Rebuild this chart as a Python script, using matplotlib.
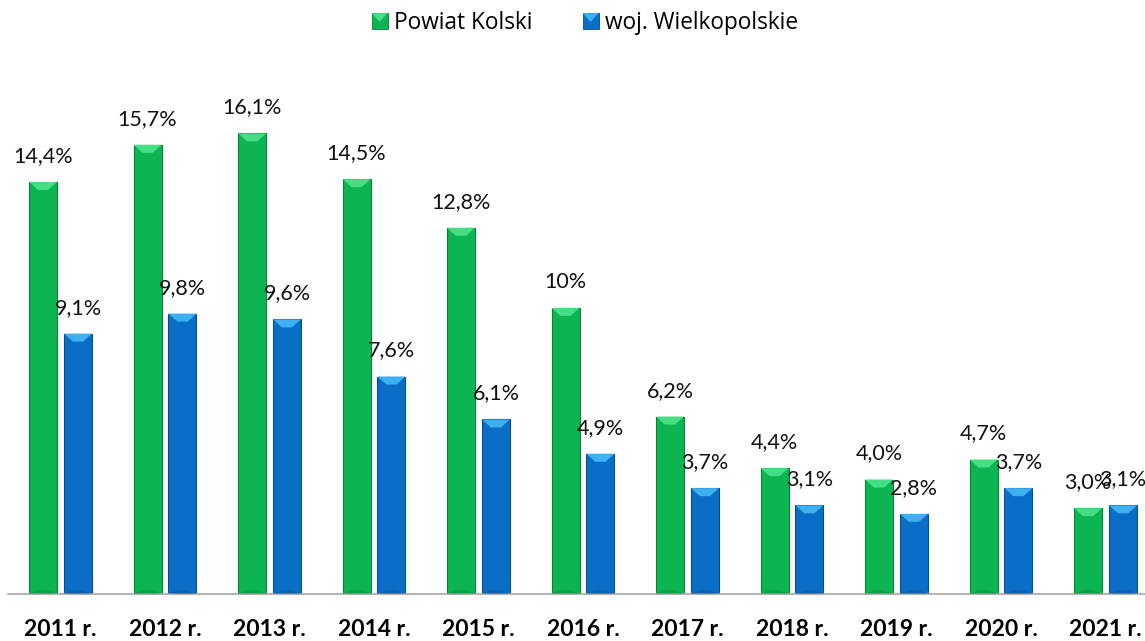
import matplotlib
matplotlib.use("Agg")
import matplotlib.pyplot as plt
from matplotlib.patches import Polygon, Patch
from matplotlib.legend_handler import HandlerPatch

# data
years = ["2011 r.", "2012 r.", "2013 r.", "2014 r.", "2015 r.", "2016 r.",
         "2017 r.", "2018 r.", "2019 r.", "2020 r.", "2021 r."]
powiat = [14.4, 15.7, 16.1, 14.5, 12.8, 10.0, 6.2, 4.4, 4.0, 4.7, 3.0]
woj = [9.1, 9.8, 9.6, 7.6, 6.1, 4.9, 3.7, 3.1, 2.8, 3.7, 3.1]
powiat_labels = ["14,4%", "15,7%", "16,1%", "14,5%", "12,8%", "10%",
                 "6,2%", "4,4%", "4,0%", "4,7%", "3,0%"]
woj_labels = ["9,1%", "9,8%", "9,6%", "7,6%", "6,1%", "4,9%",
              "3,7%", "3,1%", "2,8%", "3,7%", "3,1%"]

GREEN = "#0DB552"
GREEN_EDGE = "#07803A"
GREEN_TOP = "#45DE85"
BLUE = "#0A6EC6"
BLUE_EDGE = "#064E8E"
BLUE_TOP = "#3DB0F2"

W, H = 1145, 641
fig = plt.figure(figsize=(W / 100, H / 100), dpi=100)
ax = fig.add_axes([8.25 / W, 47 / H, 1149.5 / W, 515 / H])

x = list(range(len(years)))
bw = 0.268
off = 0.167

b1 = ax.bar([i - off for i in x], powiat, bw, color=GREEN, edgecolor=GREEN_EDGE,
            linewidth=0.8, zorder=2)
b2 = ax.bar([i + off for i in x], woj, bw, color=BLUE, edgecolor=BLUE_EDGE,
            linewidth=0.8, zorder=2)

ax.set_xlim(-0.5, 10.5)
ax.set_ylim(0, 18)

# bevel on top of each bar (lighter trapezoid), sized in pixels
px_x = 1.0 / 104.5
px_y = 18.0 / 515
for bars, top_c, edge_c in ((b1, GREEN_TOP, GREEN_EDGE), (b2, BLUE_TOP, BLUE_EDGE)):
    for r in bars:
        x0, w, h = r.get_x(), r.get_width(), r.get_height()
        d = 8 * px_y
        s = 9 * px_x
        ax.add_patch(Polygon([(x0, h), (x0 + w, h), (x0 + w - s, h - d), (x0 + s, h - d)],
                             closed=True, facecolor=top_c, edgecolor="none", zorder=3))
        bd = 4 * px_y
        ax.add_patch(Polygon([(x0, 0), (x0 + w, 0), (x0 + w - s, bd), (x0 + s, bd)],
                             closed=True, facecolor=edge_c, alpha=0.35,
                             edgecolor="none", zorder=3))

for bars, labels in ((b1, powiat_labels), (b2, woj_labels)):
    for r, lab in zip(bars, labels):
        ax.annotate(lab, (r.get_x() + r.get_width() / 2, r.get_height()),
                    xytext=(0, 20), textcoords="offset pixels",
                    ha="center", va="baseline", fontsize=15.5,
                    family="Lato", color="#111111", zorder=5)

ax.set_xticks(x)
ax.set_xticklabels(years, fontsize=16.5, fontweight="bold", family="Lato")
ax.tick_params(axis="x", length=0, pad=18)
ax.set_yticks([])
for sp in ("top", "left", "right"):
    ax.spines[sp].set_visible(False)
ax.spines["bottom"].set_color("#A6A6A6")
ax.spines["bottom"].set_linewidth(1.2)


class BevelHandler(HandlerPatch):
    def __init__(self, top, **kw):
        super().__init__(**kw)
        self.top = top

    def create_artists(self, legend, orig, xd, yd, width, height, fontsize, trans):
        sz = min(width, height)
        x0 = xd + (width - sz) / 2
        y0 = yd + (height - sz) / 2
        sq = Polygon([(x0, y0), (x0 + sz, y0), (x0 + sz, y0 + sz), (x0, y0 + sz)],
                     closed=True, facecolor=orig.get_facecolor(),
                     edgecolor=orig.get_edgecolor(), linewidth=0.6, transform=trans)
        tr = Polygon([(x0, y0 + sz), (x0 + sz, y0 + sz), (x0 + sz / 2, y0 + sz * 0.45)],
                     closed=True, facecolor=self.top, edgecolor="none", transform=trans)
        return [sq, tr]


h1 = Patch(facecolor=GREEN, edgecolor=GREEN_EDGE)
h2 = Patch(facecolor=BLUE, edgecolor=BLUE_EDGE)
fig.legend([h1, h2], ["Powiat Kolski", "woj. Wielkopolskie"],
           loc="center", bbox_to_anchor=(585 / W, 1 - 23 / H), ncol=2,
           frameon=False, prop={"family": "Open Sans", "size": 16.3},
           handlelength=0.7, handleheight=0.7, handletextpad=0.3,
           columnspacing=2.2,
           handler_map={h1: BevelHandler(GREEN_TOP), h2: BevelHandler(BLUE_TOP)})

fig.savefig("out.png", dpi=100)
